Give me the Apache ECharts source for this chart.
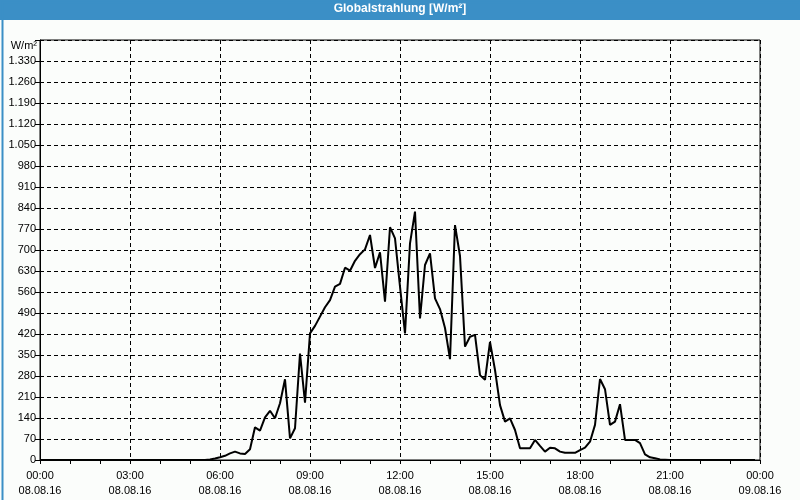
<!DOCTYPE html>
<html>
<head>
<meta charset="utf-8">
<script src="https://cdn.jsdelivr.net/npm/echarts@6/dist/echarts.min.js"></script>
<style>
html,body{margin:0;padding:0;background:#fbfdfb;}
#c{width:800px;height:500px;}
</style>
</head>
<body>
<div id="c"></div>
<script>
var chartTitle = 'Globalstrahlung [W/m²]';
var unitLabel = 'W/m²';
var dateStart = '08.08.16';
var dateEnd = '09.08.16';
var times = ['00:00','05:30','05:40','05:50','06:00','06:10','06:20','06:30','06:40','06:50','07:00','07:10','07:20','07:30','07:40','07:50','08:00','08:10','08:20','08:30','08:40','08:50','09:00','09:10','09:20','09:30','09:40','09:50','10:00','10:10','10:20','10:30','10:40','10:50','11:00','11:10','11:20','11:30','11:40','11:50','12:00','12:10','12:20','12:30','12:40','12:50','13:00','13:10','13:20','13:30','13:40','13:50','14:00','14:10','14:20','14:30','14:40','14:50','15:00','15:10','15:20','15:30','15:40','15:50','16:00','16:10','16:20','16:30','16:40','16:50','17:00','17:10','17:20','17:30','17:40','17:50','18:00','18:10','18:20','18:30','18:40','18:50','19:00','19:10','19:20','19:30','19:40','19:50','20:00','20:10','20:20','20:30','20:40','20:50','21:00','23:50'];
var values = [0,0,2,5,9,14,22,28,22,20,36,109,98,142,164,139,189,269,72,106,355,191,422,447,478,509,533,578,587,641,631,664,686,702,750,640,692,528,776,739,578,422,722,828,472,650,689,539,503,440,336,783,680,378,411,417,283,267,394,300,183,128,139,100,39,39,39,67,47,28,41,39,28,24,24,24,33,41,61,117,270,236,117,128,186,67,67,67,56,19,9,6,2,1,0,0];

function toMin(s){var p=s.split(':');return (+p[0])*60+(+p[1]);}
var data = times.map(function(t,i){return [toMin(t), values[i]];});
function pad(n){return (n<10?'0':'')+n;}

var chart = echarts.init(document.getElementById('c'), null, {renderer:'canvas'});
var font = 'Liberation Sans, Arial, sans-serif';
chart.setOption({
  backgroundColor:'#fbfdfb',
  animation:false,
  graphic:[
    {type:'rect', left:0, top:0, shape:{width:800,height:20}, style:{fill:'#3b8fc6'}, z:10},
    {type:'text', left:'center', top:3, style:{text:chartTitle, fill:'#ffffff', font:'bold 12px '+font}, z:11},
    {type:'rect', left:0, top:0, shape:{x:0.5,y:0.5,width:799,height:499}, style:{fill:'none', stroke:'#3b8fc6', lineWidth:2}, z:12, silent:true},
    {type:'text', right:763, top:40, style:{text:unitLabel, fill:'#000', font:'11px '+font, align:'right'}, z:11}
  ],
  grid:{left:40, right:40, top:40, bottom:40, show:true, borderColor:'#000', borderWidth:1, backgroundColor:'transparent'},
  xAxis:{
    type:'value', min:0, max:1440, interval:180,
    axisLine:{show:true, lineStyle:{color:'#000', width:1}},
    axisTick:{show:true, length:4, lineStyle:{color:'#000'}},
    minorTick:{show:true, splitNumber:3, length:4, lineStyle:{color:'#000'}},
    splitLine:{show:true, lineStyle:{color:'#000', type:[4,3], width:1}},
    axisLabel:{
      color:'#000', fontFamily:font, fontSize:11, lineHeight:15, margin:8,
      showMinLabel:true, showMaxLabel:true,
      formatter:function(v){
        var h=Math.floor(v/60)%24, m=v%60;
        return pad(h)+':'+pad(m)+'\n'+(v>=1440?dateEnd:dateStart);
      }
    }
  },
  yAxis:{
    type:'value', min:0, max:1400, interval:70,
    axisLine:{show:true, lineStyle:{color:'#000', width:1}},
    axisTick:{show:true, length:5, lineStyle:{color:'#000'}},
    splitLine:{show:true, lineStyle:{color:'#000', type:[4,3], width:1}},
    axisLabel:{
      color:'#000', fontFamily:font, fontSize:11, margin:4,
      formatter:function(v){
        if(v>=1400) return '';
        return v>=1000 ? Math.floor(v/1000)+'.'+String(v%1000).padStart(3,'0') : String(v);
      }
    }
  },
  series:[{
    type:'line', data:data, showSymbol:false, symbol:'none',
    lineStyle:{color:'#000', width:2}, z:5
  }]
});
</script>
</body>
</html>
